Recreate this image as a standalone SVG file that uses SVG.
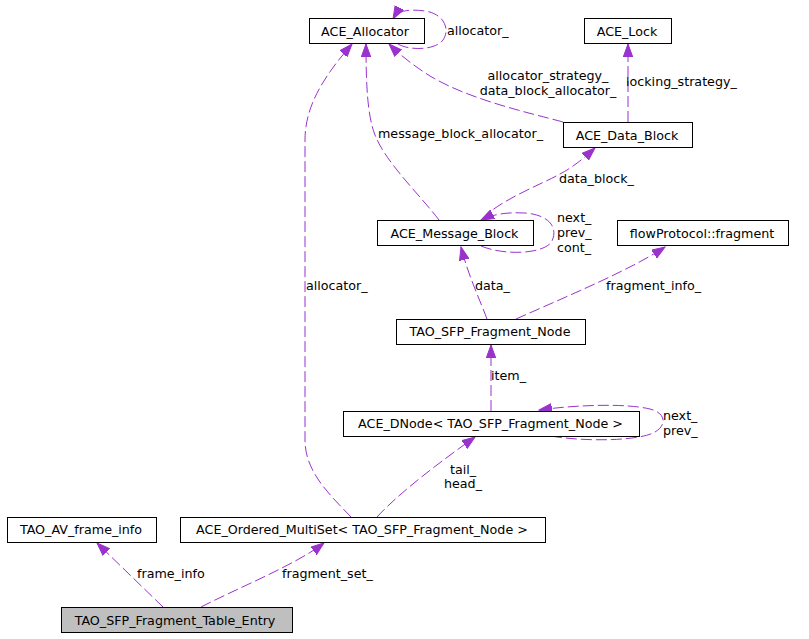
<svg xmlns="http://www.w3.org/2000/svg" width="809" height="639" viewBox="0 0 809 639">
<style>
  .box { fill: #ffffff; stroke: #000000; stroke-width: 1; }
  .root { fill: #bfbfbf; stroke: #000000; stroke-width: 1; }
  text { font-family: "DejaVu Sans", "Liberation Sans", sans-serif; font-size: 12.7px; fill: #000000; }
  .c { text-anchor: middle; }
  .edge { fill: none; stroke: #9a32cd; stroke-width: 1; stroke-dasharray: 11,4; marker-end: url(#arr); }
</style>
<defs>
  <marker id="arr" markerUnits="userSpaceOnUse" markerWidth="14" markerHeight="11" refX="13" refY="4.75" orient="auto" viewBox="0 0 14 10">
    <path d="M0,0 L13,4.75 L0,9.5 z" fill="#9a32cd" stroke="#9a32cd" stroke-width="1"/>
  </marker>
</defs>
<rect width="809" height="639" fill="#ffffff"/>

<g id="connectors">
  <path class="edge" d="M398,44 C410,51 436,50 443,40 C450,30 445,14 425,11 C410,9 398,10 393,19"/>
  <path class="edge" d="M563,122 C530,113 470,100 430,76 C414,66 400,55 389,44"/>
  <path class="edge" d="M628,122 L628,44"/>
  <path class="edge" d="M439,220 C420,195 386,163 375,135 C367,115 366,80 366,44"/>
  <path class="edge" d="M482,219 C500,200 540,185 560,174 C575,166 585,157 595,148"/>
  <path class="edge" d="M481,246 C505,256 545,254 552,241 C558,228 550,215 525,213 C508,212 493,214 481,220"/>
  <path class="edge" d="M487,319 C480,300 468,275 461,247"/>
  <path class="edge" d="M516,319 C570,295 630,270 665,247"/>
  <path class="edge" d="M491,411 L491,345"/>
  <path class="edge" d="M551,436 C585,442 640,441 655,432 C667,425 666,413 650,409 C625,403 575,405 539,410"/>
  <path class="edge" d="M377,517 C400,492 440,462 475,437"/>
  <path class="edge" d="M351,517 C330,495 305,472 305,440 L305,140 C305,105 325,75 352,44"/>
  <path class="edge" d="M163,607 L97,543"/>
  <path class="edge" d="M201,607 C240,587 295,565 324,543"/>
  <text x="447" y="35">allocator_</text>
  <text class="c" x="548" y="79.5">allocator_strategy_</text>
  <text class="c" x="548" y="94.5">data_block_allocator_</text>
  <text x="626" y="86">locking_strategy_</text>
  <text x="378" y="137.5">message_block_allocator_</text>
  <text x="559" y="183">data_block_</text>
  <text x="557" y="222">next_</text>
  <text x="557" y="237">prev_</text>
  <text x="557" y="252">cont_</text>
  <text x="475" y="289.5">data_</text>
  <text x="606" y="289.5">fragment_info_</text>
  <text x="491" y="380">item_</text>
  <text x="663" y="420">next_</text>
  <text x="663" y="435">prev_</text>
  <text class="c" x="463" y="473.5">tail_</text>
  <text class="c" x="463" y="488">head_</text>
  <text x="306" y="290">allocator_</text>
  <text x="137" y="578">frame_info</text>
  <text x="282" y="578">fragment_set_</text>
</g>

<g id="node-ACE_Allocator">
  <rect class="box" x="309.5" y="18.5" width="115" height="25"/>
  <text class="c" x="365" y="35.5">ACE_Allocator</text>
</g>
<g id="node-ACE_Lock">
  <rect class="box" x="584.5" y="18.5" width="87" height="25"/>
  <text class="c" x="627" y="35.5">ACE_Lock</text>
</g>
<g id="node-ACE_Data_Block">
  <rect class="box" x="563.5" y="122.5" width="129" height="25"/>
  <text class="c" x="627" y="139.5">ACE_Data_Block</text>
</g>
<g id="node-ACE_Message_Block">
  <rect class="box" x="377.5" y="220.5" width="156" height="25"/>
  <text class="c" x="454.5" y="238">ACE_Message_Block</text>
</g>
<g id="node-flowProtocol_fragment">
  <rect class="box" x="617.5" y="220.5" width="171" height="25"/>
  <text class="c" x="702" y="238">flowProtocol::fragment</text>
</g>
<g id="node-TAO_SFP_Fragment_Node">
  <rect class="box" x="396.5" y="319.5" width="189" height="25"/>
  <text class="c" x="490" y="336">TAO_SFP_Fragment_Node</text>
</g>
<g id="node-ACE_DNode">
  <rect class="box" x="343.5" y="411.5" width="296" height="25"/>
  <text class="c" x="490.5" y="428">ACE_DNode&lt; TAO_SFP_Fragment_Node &gt;</text>
</g>
<g id="node-TAO_AV_frame_info">
  <rect class="box" x="7.5" y="517.5" width="149" height="25"/>
  <text class="c" x="81" y="534">TAO_AV_frame_info</text>
</g>
<g id="node-ACE_Ordered_MultiSet">
  <rect class="box" x="180.5" y="517.5" width="365" height="25"/>
  <text class="c" x="362" y="534">ACE_Ordered_MultiSet&lt; TAO_SFP_Fragment_Node &gt;</text>
</g>
<g id="node-TAO_SFP_Fragment_Table_Entry">
  <rect class="root" x="61.5" y="607.5" width="231" height="25"/>
  <text class="c" x="175" y="624.5">TAO_SFP_Fragment_Table_Entry</text>
</g>
</svg>
